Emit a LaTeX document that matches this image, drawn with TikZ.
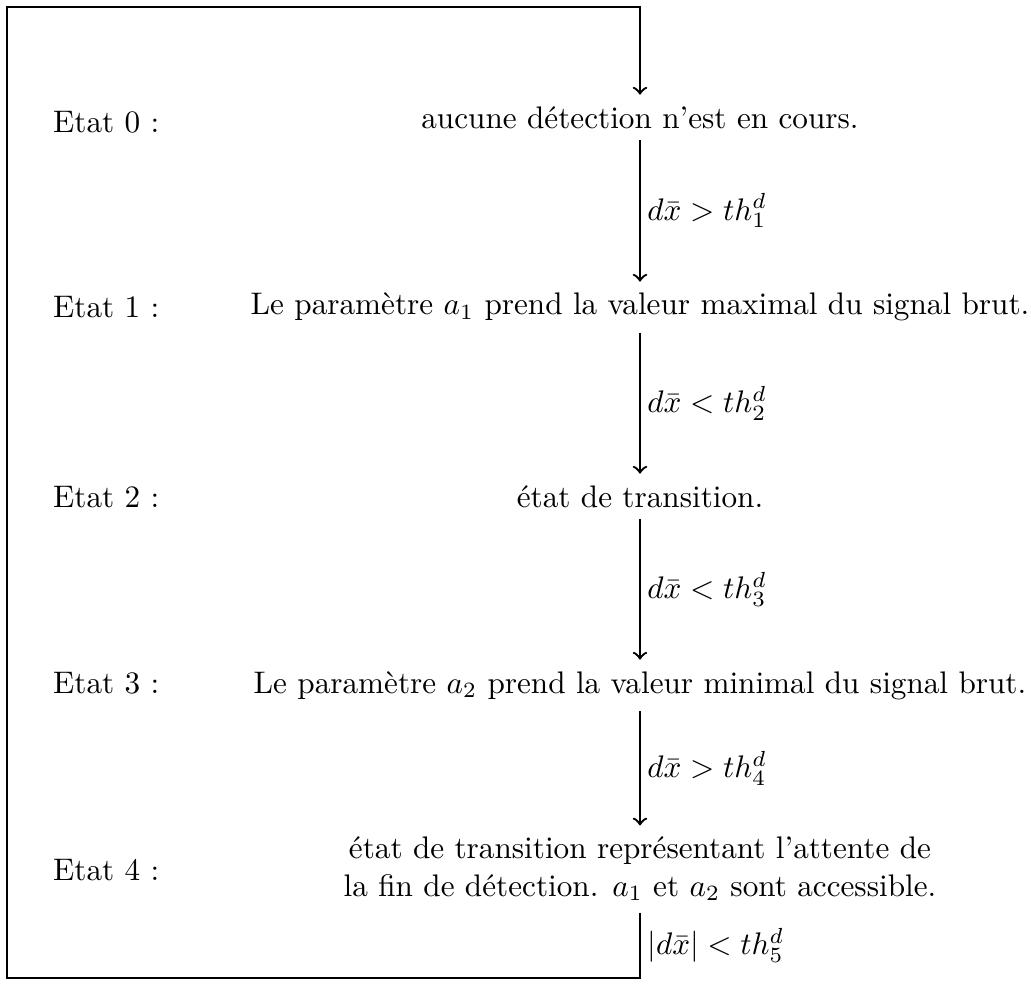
\documentclass[tikz,border=0pt]{standalone}
\usepackage{fontspec}
\begin{document}
\begin{tikzpicture}[x=0.3205pt,y=-0.3205pt,line width=0.75pt,>=to,
  state/.style={anchor=base,align=center},
  etat/.style={anchor=base west,inner sep=0pt},
  lab/.style={right,midway,inner sep=2pt}]
\useasboundingbox (0,0) rectangle (1031,997);
\node[state] (s0) at (640,128) {aucune détection n'est en cours.};
\node[state] (s1) at (640,315) {Le paramètre $a_1$ prend la valeur maximal du signal brut.};
\node[state] (s2) at (640,507) {état de transition.};
\node[state] (s3) at (640,693) {Le paramètre $a_2$ prend la valeur minimal du signal brut.};
\node[align=center] (s4) at (640,869) {état de transition représentant l'attente de\\la fin de détection. $a_1$ et $a_2$ sont accessible.};
\node[etat] (e0) at (52,133) {Etat 0 :};
\node[etat] (e1) at (52,317) {Etat 1 :};
\node[etat] (e2) at (52,507) {Etat 2 :};
\node[etat] (e3) at (52,693) {Etat 3 :};
\node[etat] (e4) at (52,880) {Etat 4 :};
\draw[->] (s0) -- node[lab]{$d\bar{x} > th_1^d$} (s1);
\draw[->] (s1) -- node[lab]{$d\bar{x} < th_2^d$} (s2);
\draw[->] (s2) -- node[lab]{$d\bar{x} < th_3^d$} (s3);
\draw[->] (s3) -- node[lab]{$d\bar{x} > th_4^d$} (s4);
\coordinate (c1) at (640,978);
\coordinate (c2) at (7,978);
\coordinate (c3) at (7,7);
\coordinate (c4) at (640,7);
\draw[->] (s4) -- node[lab]{$|d\bar{x}| < th_5^d$} (c1) -- (c2) -- (c3) -- (c4) -- (s0);
\end{tikzpicture}
\end{document}
